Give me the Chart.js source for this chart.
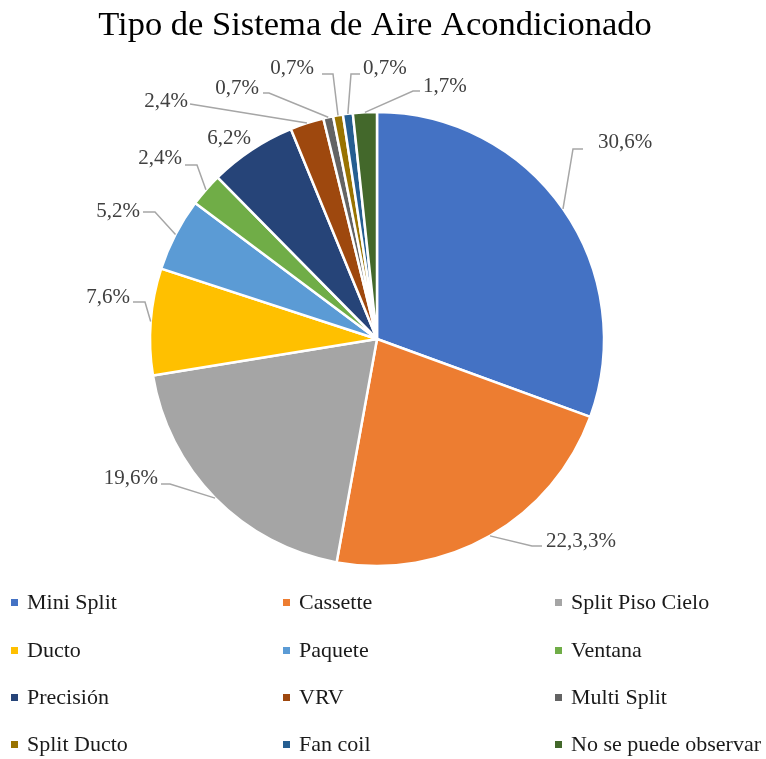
<!DOCTYPE html>
<html><head><meta charset="utf-8">
<script src="https://cdn.jsdelivr.net/npm/chart.js@4"></script>
<style>html,body{margin:0;padding:0;background:#fff;}#wrap{width:766px;height:759px;position:relative;}</style>
</head><body><div id="wrap"><canvas id="c" width="766" height="759"></canvas></div>
<script>
const titleText = 'Tipo de Sistema de Aire Acondicionado';
const categories = ['Mini Split','Cassette','Split Piso Cielo','Ducto','Paquete','Ventana','Precisión','VRV','Multi Split','Split Ducto','Fan coil','No se puede observar'];
const values = [30.6, 22.3, 19.6, 7.6, 5.2, 2.4, 6.2, 2.4, 0.7, 0.7, 0.7, 1.7];
const labelTexts = ['30,6%','22,3,3%','19,6%','7,6%','5,2%','2,4%','6,2%','2,4%','0,7%','0,7%','0,7%','1,7%'];
const colors = ['#4472C4','#ED7D31','#A5A5A5','#FFC000','#5B9BD5','#70AD47','#264478','#9E480E','#636363','#997300','#255E91','#43682B'];

// label layout relative to pie centre: text anchor, alignment, leader elbow points
const labelLayout = [
  {t:[221,-197],a:'left',p:[[196,-190],[206,-190]]},
  {t:[169,202],a:'left',p:[[155,207],[165,207]]},
  {t:[-219,139],a:'right',p:[[-207,145],[-216,145]]},
  {t:[-247,-42],a:'right',p:[[-232,-37],[-244,-37]]},
  {t:[-237,-128],a:'right',p:[[-222,-127],[-234,-127]]},
  {t:[-195,-181],a:'right',p:[[-180,-174],[-192,-174]]},
  {t:[-148,-201],a:'center',p:null},
  {t:[-189,-238],a:'right',p:[[-187,-235]]},
  {t:[-118,-251],a:'right',p:[[-108,-246],[-114,-246]]},
  {t:[-63,-271],a:'right',p:[[-44,-265],[-55,-265]]},
  {t:[-14,-271],a:'left',p:[[-26,-265],[-17,-265]]},
  {t:[46,-253],a:'left',p:[[36,-248],[43,-248]]}
];

const SERIF = '"Liberation Serif","Times New Roman",serif';

const labelPlugin = {
  id:'leaderLabels',
  afterDatasetsDraw(chart){
    const ctx = chart.ctx;
    const meta = chart.getDatasetMeta(0);
    ctx.save();
    meta.data.forEach((arc,i)=>{
      const {x,y,outerRadius,startAngle,endAngle} = arc.getProps(['x','y','outerRadius','startAngle','endAngle'],true);
      const mid = (startAngle+endAngle)/2;
      const ex = x + Math.cos(mid)*outerRadius, ey = y + Math.sin(mid)*outerRadius;
      const L = labelLayout[i];
      if (L.p){
        ctx.strokeStyle = '#A6A6A6';
        ctx.lineWidth = 1.5;
        ctx.beginPath();
        ctx.moveTo(ex,ey);
        L.p.forEach(pt=>ctx.lineTo(x+pt[0], y+pt[1]));
        ctx.stroke();
      }
      ctx.fillStyle = '#404040';
      ctx.font = '21px '+SERIF;
      ctx.textAlign = L.a;
      ctx.textBaseline = 'middle';
      ctx.fillText(labelTexts[i], x+L.t[0], y+L.t[1]);
    });
    ctx.restore();
  }
};

const titleLegendPlugin = {
  id:'titleLegend',
  afterDraw(chart){
    const ctx = chart.ctx;
    ctx.save();
    ctx.fillStyle = '#000';
    ctx.font = '34.5px '+SERIF;
    ctx.textAlign = 'center';
    ctx.textBaseline = 'alphabetic';
    ctx.fillText(titleText, 375, 35);
    const colX = [11, 283, 555];
    const rowY = [603, 651, 698, 745];
    ctx.font = '22px '+SERIF;
    ctx.textAlign = 'left';
    ctx.textBaseline = 'middle';
    categories.forEach((c,i)=>{
      const col = i%3, row = Math.floor(i/3);
      ctx.fillStyle = colors[i];
      ctx.fillRect(colX[col], rowY[row]-4, 7, 7);
      ctx.fillStyle = '#1a1a1a';
      ctx.fillText(c, colX[col]+16, rowY[row]);
    });
    ctx.restore();
  }
};

new Chart(document.getElementById('c'), {
  type:'pie',
  data:{labels:categories, datasets:[{data:values, backgroundColor:colors, borderColor:'#ffffff', borderWidth:2.5}]},
  options:{
    responsive:false, animation:false,
    radius:227,
    layout:{padding:{left:150,right:162,top:112,bottom:193}},
    plugins:{legend:{display:false}, title:{display:false}, tooltip:{enabled:false}}
  },
  plugins:[labelPlugin, titleLegendPlugin]
});
</script></body></html>
